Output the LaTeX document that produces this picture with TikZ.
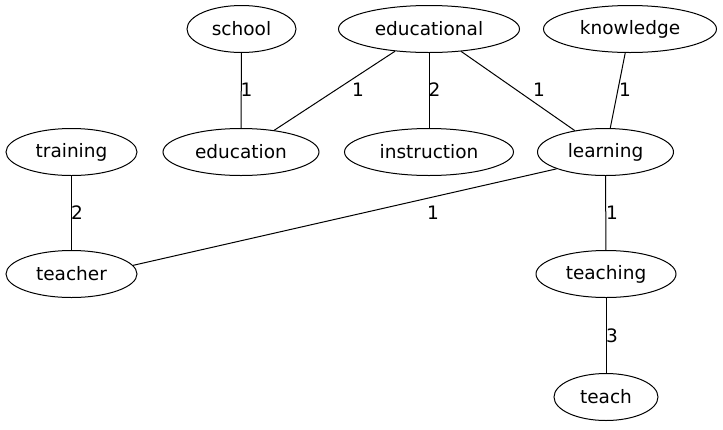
\documentclass[tikz,border=0pt]{standalone}
\usepackage{fontspec}
\setmainfont{DejaVu Sans}
\usetikzlibrary{shapes.geometric}
\begin{document}
\begin{tikzpicture}[x=1pt,y=-1pt,
  nd/.style={draw,ellipse,line width=1pt,minimum height=47pt,inner sep=0pt,font=\fontsize{18.5}{20}\selectfont},
  lbl/.style={font=\fontsize{18.5}{20}\selectfont,inner sep=0pt},
  ed/.style={line width=1pt}]
\useasboundingbox (0,0) rectangle (723,429);
\node[nd,minimum width=109pt] (school) at (241.5,29) {school};
\node[nd,minimum width=181pt] (educational) at (429,29) {educational};
\node[nd,minimum width=173pt] (knowledge) at (630,29) {knowledge};
\node[nd,minimum width=131pt] (training) at (71.5,152) {training};
\node[nd,minimum width=156pt] (education) at (241,152) {education};
\node[nd,minimum width=169pt] (instruction) at (429,152) {instruction};
\node[nd,minimum width=136pt] (learning) at (605.5,152) {learning};
\node[nd,minimum width=131pt] (teacher) at (71.5,274) {teacher};
\node[nd,minimum width=140pt] (teaching) at (606,274) {teaching};
\node[nd,minimum width=104pt] (teach) at (606,397) {teach};
\draw[ed] (school) -- (education);
\draw[ed] (educational) -- (education);
\draw[ed] (educational) -- (instruction);
\draw[ed] (educational) -- (learning);
\draw[ed] (knowledge) -- (learning);
\draw[ed] (training) -- (teacher);
\draw[ed] (learning.199) -- (teacher.8);
\draw[ed] (learning) -- (teaching);
\draw[ed] (teaching) -- (teach);
\node[lbl] (l1) at (246.5,90) {1};
\node[lbl] (l2) at (358,90) {1};
\node[lbl] (l3) at (434.5,90) {2};
\node[lbl] (l4) at (539,90) {1};
\node[lbl] (l5) at (625,90) {1};
\node[lbl] (l6) at (77,213) {2};
\node[lbl] (l7) at (433,213) {1};
\node[lbl] (l8) at (612,213) {1};
\node[lbl] (l9) at (612,336) {3};
\end{tikzpicture}
\end{document}
